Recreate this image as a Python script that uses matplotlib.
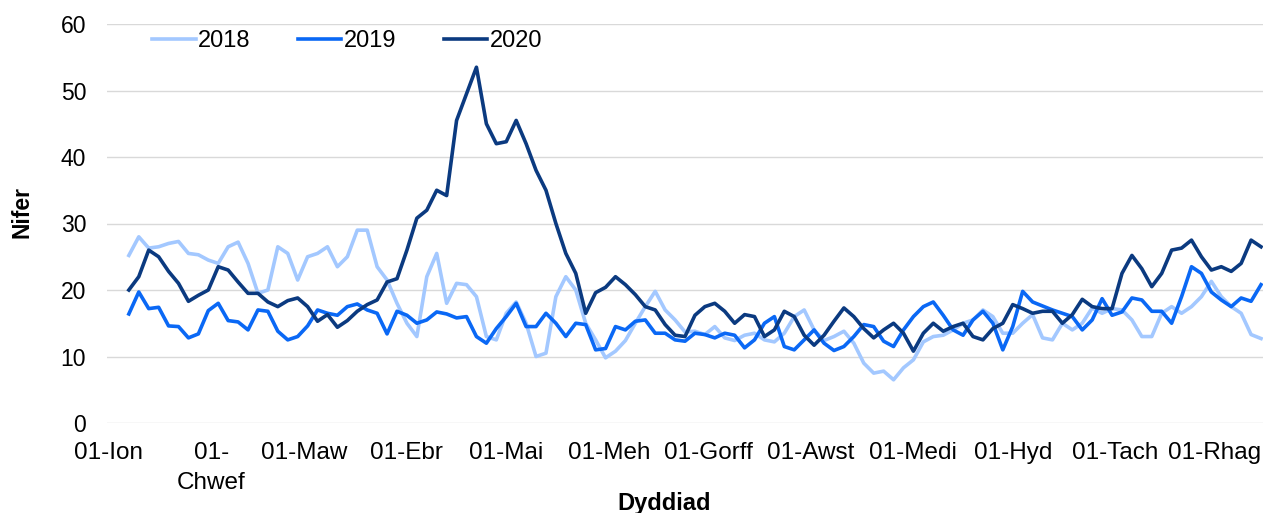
import matplotlib.pyplot as plt

plt.rcParams['font.family'] = ['Liberation Sans', 'DejaVu Sans']

# diwrnod o'r flwyddyn (0 = 01-Ion), cyfartaledd 7 diwrnod yn dechrau ar 7 Ion
days = list(range(6, 349, 3))

nifer_2018 = [25.2, 28, 26.3, 26.5, 27, 27.3, 25.5, 25.3, 24.5, 24,
              26.5, 27.2, 24, 19.5, 20, 26.5, 25.5, 21.5, 25, 25.5,
              26.5, 23.5, 25, 29, 29, 23.5, 21.5, 18, 15, 13,
              22, 25.5, 18, 21, 20.8, 19, 13, 12.5, 16.5, 18.2,
              15, 10, 10.5, 19, 22, 20, 15, 12.5, 9.8, 10.8,
              12.4, 15, 17.5, 19.8, 17, 15.5, 13.7, 13.8, 13.3, 14.5,
              12.8, 12.4, 13.2, 13.5, 12.5, 12.2, 13.5, 16, 17, 14,
              12.4, 13, 13.8, 12, 9, 7.5, 7.8, 6.5, 8.3, 9.5,
              12.2, 13, 13.2, 14, 15, 15.5, 17, 16, 13.5, 13.5,
              15, 16.3, 12.8, 12.5, 15, 14, 15, 17.3, 16.5, 17.2,
              17, 15.5, 13, 13, 16.5, 17.5, 16.5, 17.5, 19, 21.3,
              19, 17.5, 16.5, 13.3, 12.7]

nifer_2019 = [16.4, 19.7, 17.2, 17.4, 14.6, 14.5, 12.8, 13.4, 16.9, 18,
              15.4, 15.2, 14, 17, 16.8, 13.8, 12.5, 13, 14.6, 17,
              16.5, 16.2, 17.5, 17.9, 17, 16.5, 13.4, 16.8, 16.2, 15,
              15.5, 16.7, 16.4, 15.8, 16, 13, 12, 14.2, 16, 18,
              14.5, 14.5, 16.5, 15, 13, 15, 14.8, 11, 11.2, 14.5,
              14, 15.3, 15.5, 13.5, 13.5, 12.5, 12.3, 13.5, 13.3, 12.8,
              13.5, 13.2, 11.3, 12.5, 15, 16, 11.5, 11, 12.5, 14,
              12, 10.9, 11.5, 13, 14.8, 14.5, 12.3, 11.5, 14, 16,
              17.5, 18.2, 16.2, 14, 13.2, 15.5, 16.8, 15, 11, 14.5,
              19.8, 18.2, 17.6, 17, 16.5, 16, 14, 15.5, 18.7, 16.2,
              16.7, 18.8, 18.5, 16.8, 16.8, 15, 19, 23.5, 22.5, 19.7,
              18.5, 17.5, 18.8, 18.3, 20.8]

nifer_2020 = [20, 22, 26, 25, 22.8, 21, 18.3, 19.2, 20, 23.5,
              23, 21.2, 19.5, 19.5, 18.2, 17.5, 18.4, 18.8, 17.5, 15.3,
              16.3, 14.4, 15.4, 16.8, 17.8, 18.5, 21.2, 21.7, 26, 30.8,
              32, 35, 34.2, 45.5, 49.5, 53.5, 45, 42, 42.3, 45.5,
              42, 38, 35, 30, 25.5, 22.5, 16.5, 19.6, 20.4, 22,
              20.8, 19.3, 17.5, 17, 14.8, 13.2, 13, 16.2, 17.5, 18,
              16.8, 15, 16.3, 16, 13, 14, 16.8, 16, 13.2, 11.7,
              13.2, 15.3, 17.3, 16, 14.2, 12.8, 14, 15, 13.5, 10.8,
              13.5, 15, 13.8, 14.5, 15, 13, 12.5, 14.2, 15, 17.8,
              17.2, 16.5, 16.8, 16.8, 15, 16.3, 18.6, 17.5, 17.2, 17.2,
              22.5, 25.2, 23.2, 20.5, 22.5, 26, 26.3, 27.5, 25, 23,
              23.5, 22.8, 24, 27.5, 26.5]

month_starts = [0, 31, 59, 90, 120, 151, 181, 212, 243, 273, 304, 334]
month_labels = ['01-Ion', '01-\nChwef', '01-Maw', '01-Ebr', '01-Mai', '01-Meh',
                '01-Gorff', '01-Awst', '01-Medi', '01-Hyd', '01-Tach', '01-Rhag']

fig = plt.figure(figsize=(12.63, 5.13), dpi=100)
ax = fig.add_axes([107 / 1263, 1 - 423 / 513, 1 - 107 / 1263, 399 / 513])

ax.plot(days, nifer_2018, color='#a3c8ff', lw=2.6, label='2018')
ax.plot(days, nifer_2019, color='#0a68f5', lw=2.6, label='2019')
ax.plot(days, nifer_2020, color='#0b3a80', lw=2.6, label='2020')

ax.set_xlim(-0.6, 348.6)
ax.set_ylim(0, 60)
ax.set_yticks(range(0, 61, 10))
ax.set_xticks(month_starts, month_labels)
for lbl in ax.get_xticklabels():
    lbl.set_linespacing(1.45)

ax.grid(axis='y', color='#d9d9d9', lw=1)
ax.set_axisbelow(True)
for s in ax.spines.values():
    s.set_visible(False)
ax.tick_params(axis='both', length=0, colors='#000000')
ax.tick_params(axis='x', labelsize=17.5, pad=14)
ax.tick_params(axis='y', labelsize=16.5, pad=15)

ax.set_ylabel('Nifer', fontsize=16.5, fontweight='bold')
ax.yaxis.set_label_coords(-0.064, 0.53)
ax.set_xlabel('Dyddiad', fontsize=17, fontweight='bold')
ax.xaxis.set_label_coords(0.482, -0.172)

ax.legend(ncol=3, frameon=False, fontsize=17, loc='upper left',
          bbox_to_anchor=(152 / 1263, 1 - 30 / 513), bbox_transform=fig.transFigure,
          borderpad=0, borderaxespad=0, handlelength=1.85, handletextpad=0.1,
          columnspacing=2.0)

fig.savefig('out.png', dpi=100)
